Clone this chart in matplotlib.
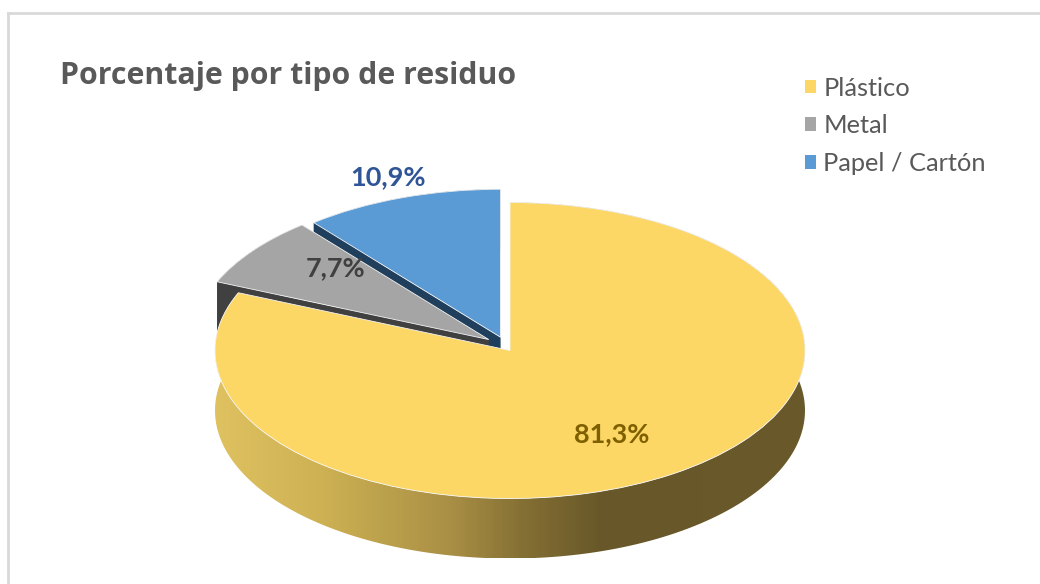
import numpy as np
import matplotlib
matplotlib.use('Agg')
import matplotlib.pyplot as plt
from matplotlib.colors import LinearSegmentedColormap
from matplotlib.lines import Line2D
from matplotlib.patches import Polygon

# Data
categorias = ['Plástico', 'Metal', 'Papel / Cartón']
porcentajes = [81.3, 7.7, 10.9]
etiquetas = ['81,3%', '7,7%', '10,9%']
explode = [0, 0.09, 0.095]

# Style
colores = ['#fcd765', '#a5a5a5', '#5b9bd5']
colores_lado = ['#6a5a2b', '#404040', '#1f3f5c']
colores_texto = ['#7f6000', '#404040', '#2f5597']

W, H = 1040, 584
cx, cy = 510, 350.5    # centre of the pie in pixels
rx, ry = 295, 148      # radii of the ellipse in pixels
alto = 60 / ry         # thickness of the pie

plt.rcParams['font.family'] = ['Lato', 'DejaVu Sans']
fig = plt.figure(figsize=(W / 100, H / 100), dpi=100)
ax = fig.add_axes([0, 0, 1, 1])

wedges, _ = ax.pie(porcentajes, startangle=90, counterclock=False, explode=explode,
                   colors=colores, wedgeprops={'edgecolor': '#f4f4f4', 'linewidth': 0.6})

# metal sits a bit higher so its dark side shows above the plastic slice
mx, my = wedges[1].center
wedges[1].set_center((mx, my + 0.02))


def lado(w):
    # outline of a wedge top + the same outline moved down by the thickness
    ang = np.radians(np.linspace(w.theta1, w.theta2, 200))
    x0, y0 = w.center
    x = np.concatenate([[x0], x0 + w.r * np.cos(ang), [x0]])
    y = np.concatenate([[y0], y0 + w.r * np.sin(ang), [y0]])
    arriba = np.column_stack([x, y])
    abajo = np.column_stack([x, y - alto])
    return arriba, abajo


# back to front: papel, metal, plastico
orden = [2, 1, 0]
z = 2
for i in orden:
    arriba, abajo = lado(wedges[i])
    pts = np.concatenate([arriba[1:-1], abajo[1:-1][::-1]])
    if i == 0:
        grad = LinearSegmentedColormap.from_list(
            'lado', [(0, '#dfc160'), (0.18, '#cdb153'), (0.40, '#a98f45'),
                     (0.52, '#857034'), (0.66, '#675729'), (1, '#6a5a2b')])
        pared = Polygon(pts, closed=True, transform=ax.transData, facecolor='none', edgecolor='none')
        ax.add_patch(pared)
        img = ax.imshow(np.linspace(0, 1, 400).reshape(1, -1), cmap=grad, aspect='auto',
                        extent=[-1, 1, -1 - alto, 1], zorder=z)
        img.set_clip_path(pared)
    else:
        ax.add_patch(Polygon(pts, closed=True, facecolor=colores_lado[i], edgecolor='none', zorder=z))
        # cut faces of the slice
        for a, b in [(arriba[0], arriba[1]), (arriba[0], arriba[-2])]:
            cara = [a, b, b - [0, alto], a - [0, alto]]
            ax.add_patch(Polygon(cara, closed=True, facecolor=colores_lado[i], edgecolor='none', zorder=z))
    wedges[i].set_zorder(z + 1)
    z += 2

# the pie is squashed, one data unit is rx pixels wide and ry pixels high
ax.set_aspect('auto')
ax.set_xlim(-cx / rx, (W - cx) / rx)
ax.set_ylim(-(H - cy) / ry, cy / ry)
ax.axis('off')

# Labels
pos_etiquetas = [(0.346, -0.565), (-0.593, 0.554), (-0.414, 1.17)]
for (x, y), t, c in zip(pos_etiquetas, etiquetas, colores_texto):
    ax.text(x, y, t, color=c, fontsize=19.5, fontweight='bold', ha='center', va='center', zorder=20)

# Title and legend
fig.text(60 / W, 1 - 76 / H, 'Porcentaje por tipo de residuo', color='#595959', fontsize=21.8,
         fontweight='bold', family=['Open Sans', 'DejaVu Sans'], ha='left', va='center')
handles = [plt.Rectangle((0, 0), 1, 1, facecolor=c) for c in colores]
leg = fig.legend(handles, categorias, loc='upper left', bbox_to_anchor=(802 / W, 1 - 74 / H),
                 frameon=False, fontsize=18.3, labelcolor='#595959', handlelength=0.47, handleheight=0.47,
                 handletextpad=0.27, labelspacing=0.58, borderpad=0.1, borderaxespad=0)

# Chart border
fig.add_artist(Line2D([8 / W, 8 / W], [0, 1 - 13 / H], color='#d9d9d9', lw=2))
fig.add_artist(Line2D([8 / W, 1], [1 - 13 / H, 1 - 13 / H], color='#d9d9d9', lw=2))

fig.savefig('out.png', dpi=100)
